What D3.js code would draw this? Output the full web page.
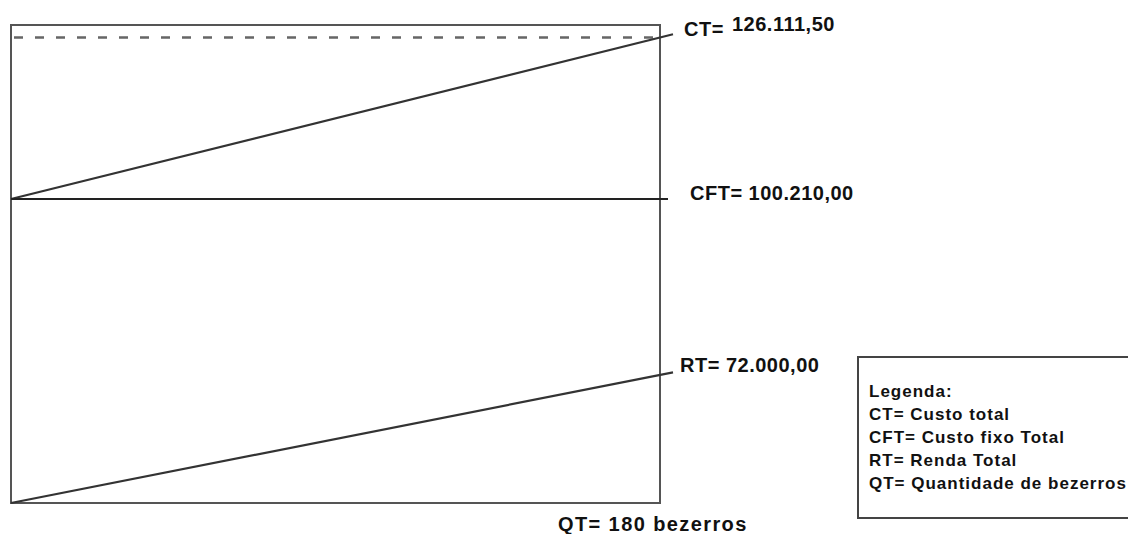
<!DOCTYPE html>
<html>
<head>
<meta charset="utf-8">
<script src="https://cdn.jsdelivr.net/npm/d3@7"></script>
<style>
  html, body { margin: 0; padding: 0; background: #fff; }
  svg { display: block; }
  text { font-family: "Liberation Sans", Arial, sans-serif; font-weight: bold; fill: #111; }
</style>
</head>
<body>
<svg id="chart" width="1128" height="534"></svg>
<script>
// ---- data ----
const qtMax = 180;                         // QT = 180 bezerros
const seriesNames = ["CT", "CFT", "RT"];
const seriesStart = [100210, 100210, 0];   // value at QT = 0
const seriesEnd = [126111.50, 100210, 72000]; // value at QT = 180
const seriesLabels = ["CT=", "CFT= 100.210,00", "RT= 72.000,00"];
const ctValueLabel = "126.111,50";
const qtLabel = "QT= 180 bezerros";
const legendTitle = "Legenda:";
const legendItems = ["CT= Custo total", "CFT= Custo fixo Total", "RT= Renda Total", "QT= Quantidade de bezerros"];

// ---- layout ----
const svg = d3.select("#chart");
const frame = { left: 11, top: 25, right: 660, bottom: 503 };

const x = d3.scaleLinear().domain([0, qtMax]).range([frame.left, frame.right]);
// schematic (non-proportional) value axis, as in the original drawing
const y = d3.scaleLinear()
  .domain([0, 72000, 100210, 126111.50])
  .range([frame.bottom, 375, 199, 37.5]);

// frame
svg.append("rect")
  .attr("x", frame.left).attr("y", frame.top)
  .attr("width", frame.right - frame.left).attr("height", frame.bottom - frame.top)
  .attr("fill", "none").attr("stroke", "#555").attr("stroke-width", 2);

// dashed line at CT level
svg.append("line")
  .attr("x1", x(0) + 3).attr("x2", x(qtMax))
  .attr("y1", y(seriesEnd[0])).attr("y2", y(seriesEnd[0]))
  .attr("stroke", "#666").attr("stroke-width", 2.5)
  .attr("stroke-dasharray", "9,12");

// series lines (extended slightly past the frame)
const overshoot = [13, 8, 13];
seriesNames.forEach((n, i) => {
  const x0 = x(0), y0 = y(seriesStart[i]);
  const x1 = x(qtMax), y1 = y(seriesEnd[i]);
  const slope = (y1 - y0) / (x1 - x0);
  const xe = x1 + overshoot[i];
  const ye = y1 + slope * overshoot[i];
  svg.append("line")
    .attr("x1", x0).attr("y1", y0).attr("x2", xe).attr("y2", ye)
    .attr("stroke", i === 1 ? "#222" : "#333").attr("stroke-width", i === 1 ? 2 : 2.2);
});

// labels
const labelStyle = sel => sel.attr("font-size", 20).attr("letter-spacing", 0.5);
labelStyle(svg.append("text").attr("x", 684).attr("y", 36).text(seriesLabels[0]));
labelStyle(svg.append("text").attr("x", 732).attr("y", 31).text(ctValueLabel));
labelStyle(svg.append("text").attr("x", 690).attr("y", y(seriesEnd[1]) + 1).text(seriesLabels[1]));
labelStyle(svg.append("text").attr("x", 680).attr("y", 372).text(seriesLabels[2]));
labelStyle(svg.append("text").attr("x", 558).attr("y", 531).text(qtLabel)).attr("letter-spacing", 1.4);

// legend
const lg = svg.append("g");
lg.append("rect")
  .attr("x", 858).attr("y", 357).attr("width", 300).attr("height", 161)
  .attr("fill", "#fff").attr("stroke", "#444").attr("stroke-width", 2);
[legendTitle].concat(legendItems).forEach((t, i) => {
  lg.append("text")
    .attr("x", 869).attr("y", 397 + i * 23)
    .attr("font-size", 17).attr("letter-spacing", 1)
    .text(t);
});
</script>
</body>
</html>
